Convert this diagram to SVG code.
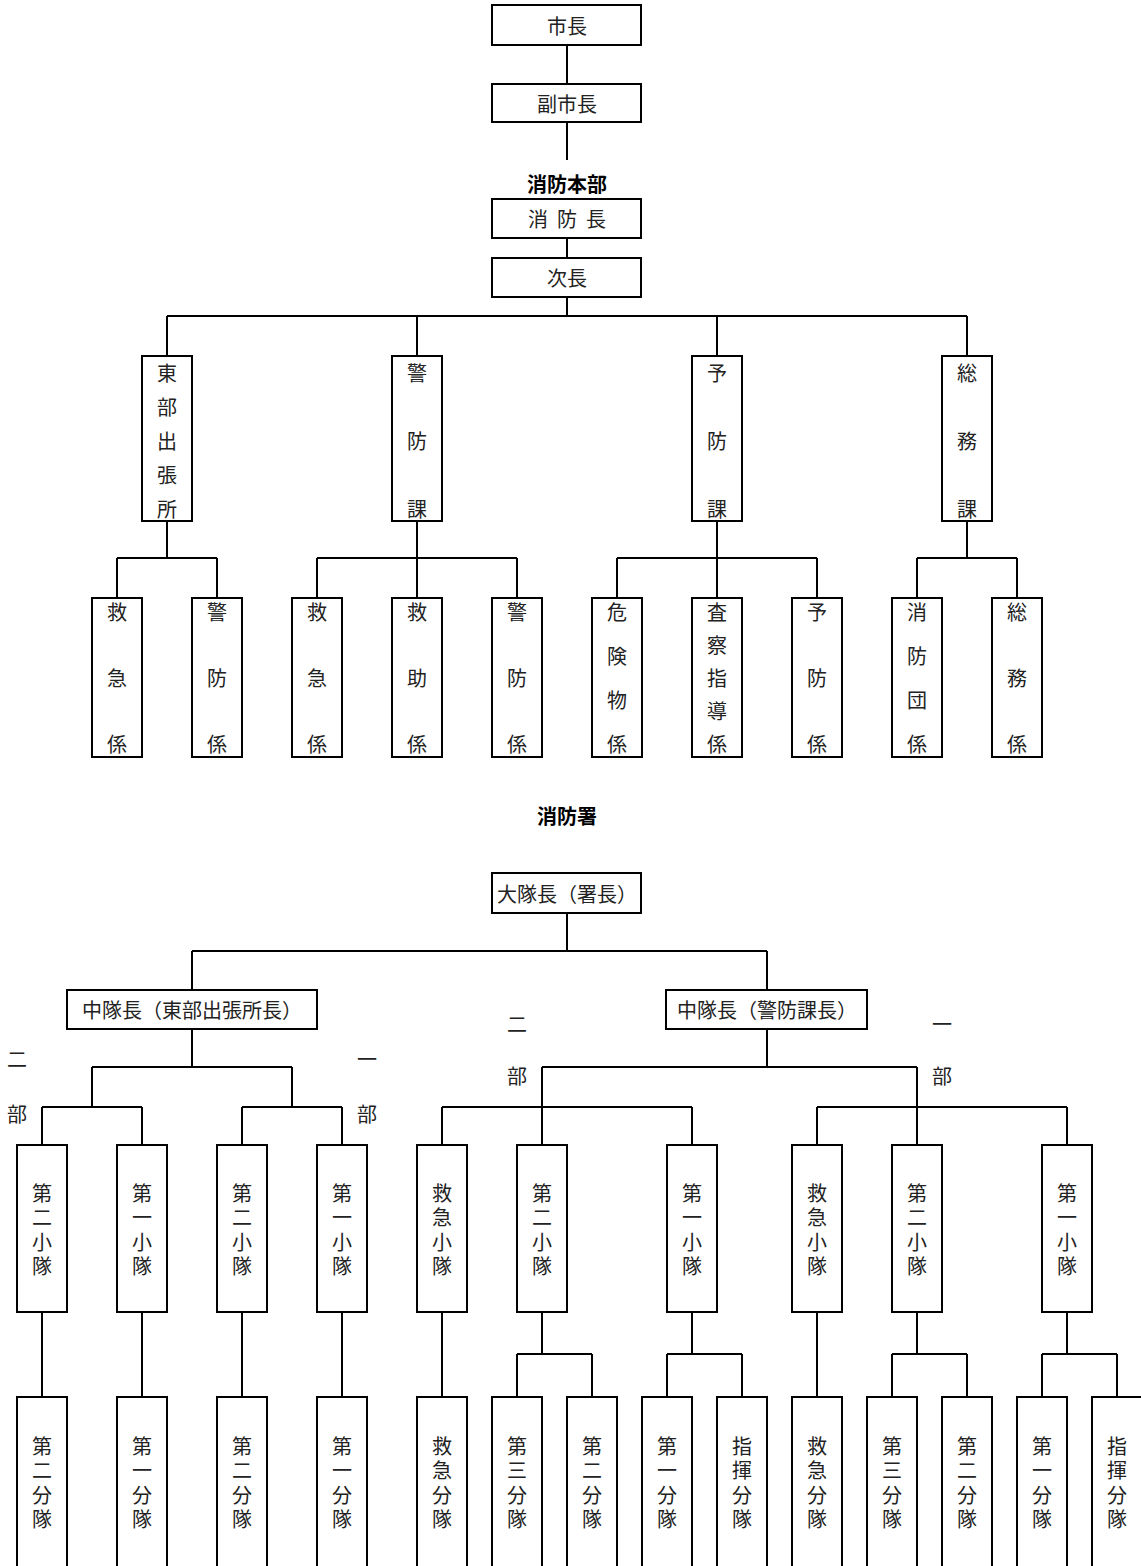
<svg xmlns="http://www.w3.org/2000/svg" width="1141" height="1566" viewBox="0 0 1141 1566">
<style>
.box{fill:#fff;stroke:#000;stroke-width:2}
.ln{fill:none;stroke:#000;stroke-width:2}
.t{font-family:"Noto Sans CJK JP","Noto Sans CJK SC",sans-serif;font-size:20px;fill:#222;dominant-baseline:central;text-anchor:middle}
.h{font-family:"Noto Sans CJK JP","Noto Sans CJK SC",sans-serif;font-size:20px;font-weight:bold;fill:#000;dominant-baseline:central;text-anchor:middle}
</style>
<rect width="1141" height="1566" fill="#fff"/>
<g id="connectors">
<path class="ln" d="M567 45V84M567 122V160M567 238V258M567 297V316M167 316H967M167 316V356M417 316V356M717 316V356M967 316V356"/>
<path class="ln" d="M167 521V558M117 558H217M117 558V598M217 558V598"/>
<path class="ln" d="M417 521V558M317 558H517M317 558V598M417 558V598M517 558V598"/>
<path class="ln" d="M717 521V558M617 558H817M617 558V598M717 558V598M817 558V598"/>
<path class="ln" d="M967 521V558M917 558H1017M917 558V598M1017 558V598"/>
<path class="ln" d="M567 913V951M192 951H767M192 951V990M767 951V990"/>
<path class="ln" d="M192 1029V1067M92 1067H292M92 1067V1107M292 1067V1107M42 1107H142M242 1107H342M42 1107V1145M142 1107V1145M242 1107V1145M342 1107V1145"/>
<path class="ln" d="M767 1029V1067M542 1067H917M542 1067V1145M917 1067V1145M442 1107H692M442 1107V1145M692 1107V1145M817 1107H1067M817 1107V1145M1067 1107V1145"/>
<path class="ln" d="M42 1312V1397M142 1312V1397M242 1312V1397M342 1312V1397M442 1312V1397M817 1312V1397"/>
<path class="ln" d="M542 1312V1354M517 1354H592M517 1354V1397M592 1354V1397"/>
<path class="ln" d="M692 1312V1354M667 1354H742M667 1354V1397M742 1354V1397"/>
<path class="ln" d="M917 1312V1354M892 1354H967M892 1354V1397M967 1354V1397"/>
<path class="ln" d="M1067 1312V1354M1042 1354H1117M1042 1354V1397M1117 1354V1397"/>
</g>
<g id="n-shicho"><rect class="box" x="492" y="5" width="149" height="40"/><text class="t" x="567" y="25">市長</text></g>
<g id="n-fukushicho"><rect class="box" x="492" y="84" width="149" height="38"/><text class="t" x="567" y="103">副市長</text></g>
<text class="h" x="567" y="183">消防本部</text>
<g id="n-shoboucho"><rect class="box" x="492" y="199" width="149" height="39"/><text class="t" x="538 567 596" y="218">消防長</text></g>
<g id="n-jicho"><rect class="box" x="492" y="258" width="149" height="39"/><text class="t" x="567" y="277">次長</text></g>

<g id="n-tobu"><rect class="box" x="142" y="356" width="50" height="165"/><text class="t" x="167 167 167 167 167" y="372 406 440 474 508">東部出張所</text></g>
<g id="n-keibo"><rect class="box" x="392" y="356" width="50" height="165"/><text class="t" x="417 417 417" y="372 440 508">警防課</text></g>
<g id="n-yobo"><rect class="box" x="692" y="356" width="50" height="165"/><text class="t" x="717 717 717" y="372 440 508">予防課</text></g>
<g id="n-somu"><rect class="box" x="942" y="356" width="50" height="165"/><text class="t" x="967 967 967" y="372 440 508">総務課</text></g>

<g id="r3-1"><rect class="box" x="92" y="598" width="50" height="159"/><text class="t" x="117 117 117" y="611 677 743">救急係</text></g>
<g id="r3-2"><rect class="box" x="192" y="598" width="50" height="159"/><text class="t" x="217 217 217" y="611 677 743">警防係</text></g>
<g id="r3-3"><rect class="box" x="292" y="598" width="50" height="159"/><text class="t" x="317 317 317" y="611 677 743">救急係</text></g>
<g id="r3-4"><rect class="box" x="392" y="598" width="50" height="159"/><text class="t" x="417 417 417" y="611 677 743">救助係</text></g>
<g id="r3-5"><rect class="box" x="492" y="598" width="50" height="159"/><text class="t" x="517 517 517" y="611 677 743">警防係</text></g>
<g id="r3-6"><rect class="box" x="592" y="598" width="50" height="159"/><text class="t" x="617 617 617 617" y="611 655 699 743">危険物係</text></g>
<g id="r3-7"><rect class="box" x="692" y="598" width="50" height="159"/><text class="t" x="717 717 717 717 717" y="611 644 677 710 743">査察指導係</text></g>
<g id="r3-8"><rect class="box" x="792" y="598" width="50" height="159"/><text class="t" x="817 817 817" y="611 677 743">予防係</text></g>
<g id="r3-9"><rect class="box" x="892" y="598" width="50" height="159"/><text class="t" x="917 917 917 917" y="611 655 699 743">消防団係</text></g>
<g id="r3-10"><rect class="box" x="992" y="598" width="50" height="159"/><text class="t" x="1017 1017 1017" y="611 677 743">総務係</text></g>

<text class="h" x="567" y="815">消防署</text>

<g id="n-daitai"><rect class="box" x="492" y="873" width="149" height="40"/><text class="t" x="567" y="893">大隊長（署長）</text></g>
<g id="n-chutai-tobu"><rect class="box" x="67" y="990" width="250" height="39"/><text class="t" x="192" y="1009">中隊長（東部出張所長）</text></g>
<g id="n-chutai-keibo"><rect class="box" x="666" y="990" width="201" height="39"/><text class="t" x="767" y="1009">中隊長（警防課長）</text></g>

<g id="labels">
<text class="t" x="17" y="1058">二</text><text class="t" x="17" y="1113">部</text>
<text class="t" x="367" y="1058">一</text><text class="t" x="367" y="1113">部</text>
<text class="t" x="517" y="1023">二</text><text class="t" x="517" y="1075">部</text>
<text class="t" x="942" y="1023">一</text><text class="t" x="942" y="1075">部</text>
</g>

<g id="s-1"><rect class="box" x="17" y="1145" width="50" height="167"/><text class="t" x="42 42 42 42" y="1192 1216 1241 1265">第二小隊</text></g>
<g id="s-2"><rect class="box" x="117" y="1145" width="50" height="167"/><text class="t" x="142 142 142 142" y="1192 1216 1241 1265">第一小隊</text></g>
<g id="s-3"><rect class="box" x="217" y="1145" width="50" height="167"/><text class="t" x="242 242 242 242" y="1192 1216 1241 1265">第二小隊</text></g>
<g id="s-4"><rect class="box" x="317" y="1145" width="50" height="167"/><text class="t" x="342 342 342 342" y="1192 1216 1241 1265">第一小隊</text></g>
<g id="s-5"><rect class="box" x="417" y="1145" width="50" height="167"/><text class="t" x="442 442 442 442" y="1192 1216 1241 1265">救急小隊</text></g>
<g id="s-6"><rect class="box" x="517" y="1145" width="50" height="167"/><text class="t" x="542 542 542 542" y="1192 1216 1241 1265">第二小隊</text></g>
<g id="s-7"><rect class="box" x="667" y="1145" width="50" height="167"/><text class="t" x="692 692 692 692" y="1192 1216 1241 1265">第一小隊</text></g>
<g id="s-8"><rect class="box" x="792" y="1145" width="50" height="167"/><text class="t" x="817 817 817 817" y="1192 1216 1241 1265">救急小隊</text></g>
<g id="s-9"><rect class="box" x="892" y="1145" width="50" height="167"/><text class="t" x="917 917 917 917" y="1192 1216 1241 1265">第二小隊</text></g>
<g id="s-10"><rect class="box" x="1042" y="1145" width="50" height="167"/><text class="t" x="1067 1067 1067 1067" y="1192 1216 1241 1265">第一小隊</text></g>

<g id="b-1"><rect class="box" x="17" y="1397" width="50" height="200"/><text class="t" x="42 42 42 42" y="1445 1469 1494 1518">第二分隊</text></g>
<g id="b-2"><rect class="box" x="117" y="1397" width="50" height="200"/><text class="t" x="142 142 142 142" y="1445 1469 1494 1518">第一分隊</text></g>
<g id="b-3"><rect class="box" x="217" y="1397" width="50" height="200"/><text class="t" x="242 242 242 242" y="1445 1469 1494 1518">第二分隊</text></g>
<g id="b-4"><rect class="box" x="317" y="1397" width="50" height="200"/><text class="t" x="342 342 342 342" y="1445 1469 1494 1518">第一分隊</text></g>
<g id="b-5"><rect class="box" x="417" y="1397" width="50" height="200"/><text class="t" x="442 442 442 442" y="1445 1469 1494 1518">救急分隊</text></g>
<g id="b-6"><rect class="box" x="492" y="1397" width="50" height="200"/><text class="t" x="517 517 517 517" y="1445 1469 1494 1518">第三分隊</text></g>
<g id="b-7"><rect class="box" x="567" y="1397" width="50" height="200"/><text class="t" x="592 592 592 592" y="1445 1469 1494 1518">第二分隊</text></g>
<g id="b-8"><rect class="box" x="642" y="1397" width="50" height="200"/><text class="t" x="667 667 667 667" y="1445 1469 1494 1518">第一分隊</text></g>
<g id="b-9"><rect class="box" x="717" y="1397" width="50" height="200"/><text class="t" x="742 742 742 742" y="1445 1469 1494 1518">指揮分隊</text></g>
<g id="b-10"><rect class="box" x="792" y="1397" width="50" height="200"/><text class="t" x="817 817 817 817" y="1445 1469 1494 1518">救急分隊</text></g>
<g id="b-11"><rect class="box" x="867" y="1397" width="50" height="200"/><text class="t" x="892 892 892 892" y="1445 1469 1494 1518">第三分隊</text></g>
<g id="b-12"><rect class="box" x="942" y="1397" width="50" height="200"/><text class="t" x="967 967 967 967" y="1445 1469 1494 1518">第二分隊</text></g>
<g id="b-13"><rect class="box" x="1017" y="1397" width="50" height="200"/><text class="t" x="1042 1042 1042 1042" y="1445 1469 1494 1518">第一分隊</text></g>
<g id="b-14"><rect class="box" x="1092" y="1397" width="50" height="200"/><text class="t" x="1117 1117 1117 1117" y="1445 1469 1494 1518">指揮分隊</text></g>
</svg>
